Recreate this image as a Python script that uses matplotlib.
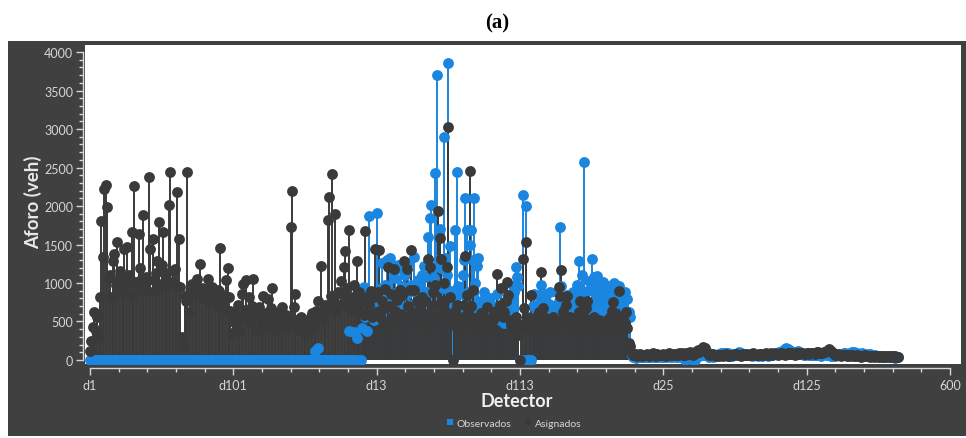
import matplotlib
matplotlib.use("Agg")
import matplotlib.pyplot as plt
from matplotlib.lines import Line2D
from matplotlib.patches import Rectangle
from matplotlib.ticker import MultipleLocator, FixedLocator, FixedFormatter
import numpy as np

# ---------------------------------------------------------------- data
# Assigned flows (veh) per detector, in plotting order
asig_a = [
    120, 250, 430, 620, 380, 560, 300, 820, 1800, 1340,
    2220, 2277, 1987, 1060, 1100, 820, 1290, 1376, 980, 1532,
    1040, 1150, 880, 1020, 1440, 960, 1466, 1100, 1050, 1660,
    840, 2264, 1010, 990, 1636, 1200, 1060, 1880, 920, 1080,
    1040, 2380, 1440, 880, 1570, 1020, 1130, 1290, 1797, 950,
    1240, 1666, 1020, 1130, 990, 2017, 2445, 1010, 1160, 1180,
    980, 2186, 1570, 950, 300, 180, 835, 760, 2445, 620,
    880, 987, 840, 930, 860, 1052, 890, 1247, 940, 810,
    820, 920, 1052, 760, 880, 950, 840, 780, 720, 910,
    900, 1455, 780, 830, 660, 1043, 1190, 820, 640, 350,
    520, 480, 600, 720, 390, 560, 860, 987, 650, 1043,
    560, 820, 480, 700, 1052, 620, 380, 540, 690, 450,
    560, 826, 430, 610, 792, 520, 680, 931, 480, 390,
    560, 450, 620, 500, 684, 520, 410, 580, 460, 520,
    1723, 2199, 684, 857, 520, 430, 390, 560, 480, 420,
    350, 460, 520, 380, 560, 610, 440, 520, 640, 770,
    590, 1217, 640, 520, 720, 680, 1818, 2121, 835, 2415,
    760, 1896, 620, 880, 720, 1030, 860, 1204, 1420, 940,
    720, 1688, 820, 650, 980, 760, 1290, 700, 880, 620,
    760, 580, 1680, 820, 640, 720, 900, 560, 820, 1441,
]
asig_b = [
    620, 880, 1433, 540, 760, 680, 920, 450, 1204, 700,
    860, 560, 1182, 640, 780, 520, 913, 600, 840, 1290,
    560, 1182, 700, 913, 1433, 620, 913, 480, 760, 560,
    690, 520, 820, 600, 760, 450, 1311, 1204, 620, 880,
    720, 980, 560, 1939, 1580, 1311, 760, 1000, 640, 1204,
    3030, 820, 540, 0, 460, 640, 720, 520, 380, 450,
    560, 720, 1346, 840, 620, 2450, 700, 913, 540, 460,
    380, 520, 450, 610, 480, 560, 420, 684, 520, 380,
    460, 520, 600, 640, 1117, 580, 720, 931, 560, 620,
    760, 1009, 840, 520, 460, 380, 420, 560, 480, 320,
    0, 420, 1311, 680, 1528, 560, 420, 520, 844, 380,
    460, 560, 380, 620, 520, 1139, 680, 560, 420, 500,
    380, 520, 460, 560, 420, 380, 500, 944, 835, 1165,
    620, 560, 720, 827, 480, 560, 420, 380, 520, 460,
    560, 620, 770, 480, 597, 520, 680, 770, 460, 520,
    420, 380, 560, 480, 420, 520, 445, 380, 460, 420,
    380, 520, 460, 560, 640, 749, 520, 600, 560, 895,
    510, 460, 560, 480, 627, 420, 220, 180,
]
asig_c = [
    90, 70, 60, 80, 55, 65, 75, 50, 60, 70,
    65, 80, 55, 60, 70, 85, 60, 50, 75, 65,
    70, 60, 80, 65, 55, 70, 90, 60, 75, 65,
    80, 70, 60, 95, 75, 85, 70, 60, 90, 80,
    75, 100, 85, 70, 110, 90, 130, 100, 120, 140,
    165, 150, 120, 90, 70, 80, 60, 75, 65, 55,
    60, 50, 70, 65, 55, 60, 75, 50, 55, 65,
    70, 60, 80, 75, 65, 70, 55, 60, 75, 70,
    80, 65, 60, 70, 75, 85, 70, 60, 65, 80,
    75, 70, 65, 80, 85, 70, 75, 90, 70, 80,
    85, 75, 70, 80, 90, 85, 75, 70, 80, 95,
    90, 85, 80, 75, 70, 85, 80, 90, 95, 85,
    80, 75, 85, 90, 80, 95, 85, 90, 80, 100,
    110, 95, 85, 90, 100, 110, 120, 130, 140, 120,
    100, 80, 70, 65, 75, 60, 55, 65, 70, 60,
    55, 60, 50, 65, 60, 55, 50, 60, 55, 50,
    45, 55, 50, 60, 55, 50, 45, 55, 50, 45,
    50, 55, 45, 50, 55, 45, 50, 45, 55, 50,
    45, 50, 55, 45, 50, 40, 45,
]

# Observed flows (veh); 0 where the detector has no count
obs_a = [
    0, 0, 0, 0, 0, 0, 0, 0, 0, 0,
    0, 0, 0, 0, 0, 0, 0, 0, 0, 0,
    0, 0, 0, 0, 0, 0, 0, 0, 0, 0,
    0, 0, 0, 0, 0, 0, 0, 0, 0, 0,
    0, 0, 0, 0, 0, 0, 0, 0, 0, 0,
    0, 0, 0, 0, 0, 0, 0, 0, 0, 0,
    0, 0, 0, 0, 0, 0, 0, 0, 0, 0,
    0, 0, 0, 0, 0, 0, 0, 0, 0, 0,
    0, 0, 0, 0, 0, 0, 0, 0, 0, 0,
    0, 0, 0, 0, 0, 0, 0, 0, 0, 0,
    0, 0, 0, 0, 0, 0, 0, 0, 0, 0,
    0, 0, 0, 0, 0, 0, 0, 0, 0, 0,
    0, 0, 0, 0, 0, 0, 0, 0, 0, 0,
    0, 0, 0, 0, 0, 0, 0, 0, 0, 0,
    0, 0, 0, 0, 0, 0, 0, 0, 0, 0,
    0, 0, 0, 0, 0, 0, 0, 120, 0, 160,
    0, 0, 0, 0, 0, 0, 0, 0, 0, 0,
    0, 0, 0, 0, 0, 0, 0, 0, 0, 0,
    0, 380, 0, 0, 360, 0, 280, 0, 700, 0,
    420, 944, 560, 380, 720, 1874, 640, 880, 520, 760,
]
obs_b = [
    1909, 820, 560, 940, 1260, 700, 980, 1300, 860, 1320,
    760, 1240, 640, 1060, 880, 1240, 720, 1180, 960, 640,
    1100, 860, 1260, 720, 980, 640, 1333, 880, 760, 1040,
    640, 920, 1100, 1225, 1073, 880, 1600, 1840, 2017, 1200,
    1060, 2425, 3701, 1300, 1700, 1200, 940, 2892, 1320, 1100,
    3857, 1476, 900, 620, 700, 1688, 2437, 960, 860, 700,
    1100, 1300, 2100, 1688, 880, 1500, 1688, 1300, 2100, 1000,
    1225, 1320, 640, 760, 560, 880, 620, 700, 540, 800,
    480, 620, 700, 560, 860, 640, 520, 700, 600, 480,
    560, 780, 640, 520, 800, 960, 880, 1212, 1080, 960,
    0, 0, 2143, 0, 2004, 0, 0, 0, 0, 700,
    857, 720, 560, 840, 620, 980, 780, 560, 860, 640,
    727, 879, 660, 560, 700, 620, 880, 760, 1731, 960,
    780, 640, 560, 840, 600, 720, 660, 880, 640, 760,
    980, 1290, 860, 1100, 820, 2575, 760, 900, 1020, 700,
    1311, 900, 1080, 1000, 1087, 820, 900, 760, 1009, 880,
    960, 820, 960, 880, 920, 720, 1000, 860, 740, 960,
    800, 860, 720, 880, 640, 792, 620, 560,
]
obs_c = [
    60, 40, 50, 30, 45, 40, 50, 35, 40, 45,
    40, 55, 35, 45, 50, 40, 35, 45, 55, 40,
    50, 40, 45, 55, 40, 50, 60, 45, 40, 50,
    55, 45, 40, 60, 50, 45, 55, 0, 50, 60,
    55, 60, 50, 0, 0, 45, 60, 55, 70, 60,
    80, 70, 60, 50, 45, 55, 50, 45, 60, 50,
    70, 80, 85, 75, 90, 80, 95, 85, 70, 60,
    55, 75, 65, 80, 95, 110, 90, 70, 65, 60,
    70, 80, 75, 60, 55, 65, 70, 60, 55, 65,
    60, 55, 65, 70, 60, 55, 65, 60, 70, 80,
    75, 80, 90, 100, 110, 120, 130, 140, 150, 140,
    130, 120, 110, 100, 90, 105, 115, 100, 90, 85,
    70, 65, 75, 80, 70, 60, 65, 70, 60, 70,
    60, 65, 55, 70, 80, 75, 65, 70, 60, 55,
    50, 60, 55, 60, 65, 70, 75, 80, 85, 90,
    80, 75, 85, 90, 100, 110, 95, 85, 80, 75,
    80, 85, 75, 70, 65, 80, 75, 70, 60, 55,
    60, 55, 50, 45, 40, 50, 45, 40, 35, 40,
    45, 40, 35, 40, 30, 35, 40,
]

tick_positions = [0, 100, 200, 300, 400, 500, 600]
tick_labels = ["d1", "d101", "d13", "d113", "d25", "d125", "600"]

asignados = np.array(asig_a + asig_b + asig_c, dtype=float)
observados = np.array(obs_a + obs_b + obs_c, dtype=float)
x = np.arange(len(asignados))

# ---------------------------------------------------------------- style
W, H = 966, 439
BG = "#404040"
DARK = "#3a3a3a"
BLUE = "#1a86e0"
LIGHT = "#d6d6d6"
FONT = "Lato"

fig = plt.figure(figsize=(W / 100, H / 100), dpi=100)
fig.patch.set_facecolor("white")
panel = Rectangle((8 / W, 2 / H), 1 - 8 / W, (437 - 42) / H,
                  transform=fig.transFigure, facecolor=BG,
                  edgecolor="none", zorder=-10)
fig.add_artist(panel)

ax = fig.add_axes([85 / W, 1 - 365 / H, (961 - 85) / W, (365 - 46) / H])
ax.set_facecolor("white")

ms = 7.8
lw = 1.4
# stems first, then markers, so every marker sits above every stem
ax.vlines(x, 0, observados, color=BLUE, lw=lw, zorder=1)
ax.vlines(x, 0, asignados, color=DARK, lw=lw, zorder=2)
ax.plot(x, observados, "o", color=BLUE, ms=ms, mew=0, zorder=3)
ax.plot(x, asignados, "o", color=DARK, ms=ms, mew=0, zorder=4)

ax.set_xlim(-3.5, 607.8)
ax.set_ylim(-52, 4091)

for s in ("top", "right"):
    ax.spines[s].set_visible(False)
ax.spines["left"].set_position(("outward", 1.5))
ax.spines["left"].set_bounds(0, 4000)
ax.spines["bottom"].set_position(("outward", 3))
ax.spines["bottom"].set_bounds(0, 600)
for s in ("left", "bottom"):
    ax.spines[s].set_color(LIGHT)
    ax.spines[s].set_linewidth(1.0)
    ax.spines[s].set_zorder(5)

ax.yaxis.set_major_locator(MultipleLocator(500))
ax.yaxis.set_minor_locator(MultipleLocator(100))
ax.xaxis.set_major_locator(FixedLocator(tick_positions))
ax.xaxis.set_major_formatter(FixedFormatter(tick_labels))
ax.xaxis.set_minor_locator(MultipleLocator(20))

ax.tick_params(axis="both", which="major", colors=LIGHT, labelcolor=LIGHT,
               length=5, width=1, labelsize=9)
ax.tick_params(axis="both", which="minor", colors=LIGHT, length=3, width=1)
ax.tick_params(axis="x", pad=3)
ax.tick_params(axis="y", pad=2)
for lab in ax.get_xticklabels() + ax.get_yticklabels():
    lab.set_family(FONT)
    lab.set_fontsize(9)

fig.text(33 / W, 1 - 202 / H, "Aforo (veh)", rotation=90, ha="center",
         va="center", color="#e8e8e8", fontsize=13.5, fontweight="bold",
         family=FONT)
fig.text(517 / W, 1 - 402 / H, "Detector", ha="center", va="center",
         color="#f0f0f0", fontsize=13, fontweight="bold", family=FONT)
fig.text(497 / W, 1 - 23 / H, "(a)", ha="center", va="center",
         color="black", fontsize=15, fontweight="bold",
         family="Liberation Serif")

handles = [
    Line2D([], [], ls="none", marker="s", ms=5, mew=0, color=BLUE),
    Line2D([], [], ls="none", marker="s", ms=5, mew=0, color=DARK),
]
leg = fig.legend(handles, ["Observados", "Asignados"], loc="center",
                 bbox_to_anchor=(514 / W, 1 - 424 / H), ncol=2,
                 frameon=False, handlelength=0.6, handletextpad=0.3,
                 columnspacing=1.4, prop={"family": FONT, "size": 7.5})
for t in leg.get_texts():
    t.set_color(LIGHT)

fig.savefig("out.png", dpi=100, facecolor=fig.get_facecolor())
